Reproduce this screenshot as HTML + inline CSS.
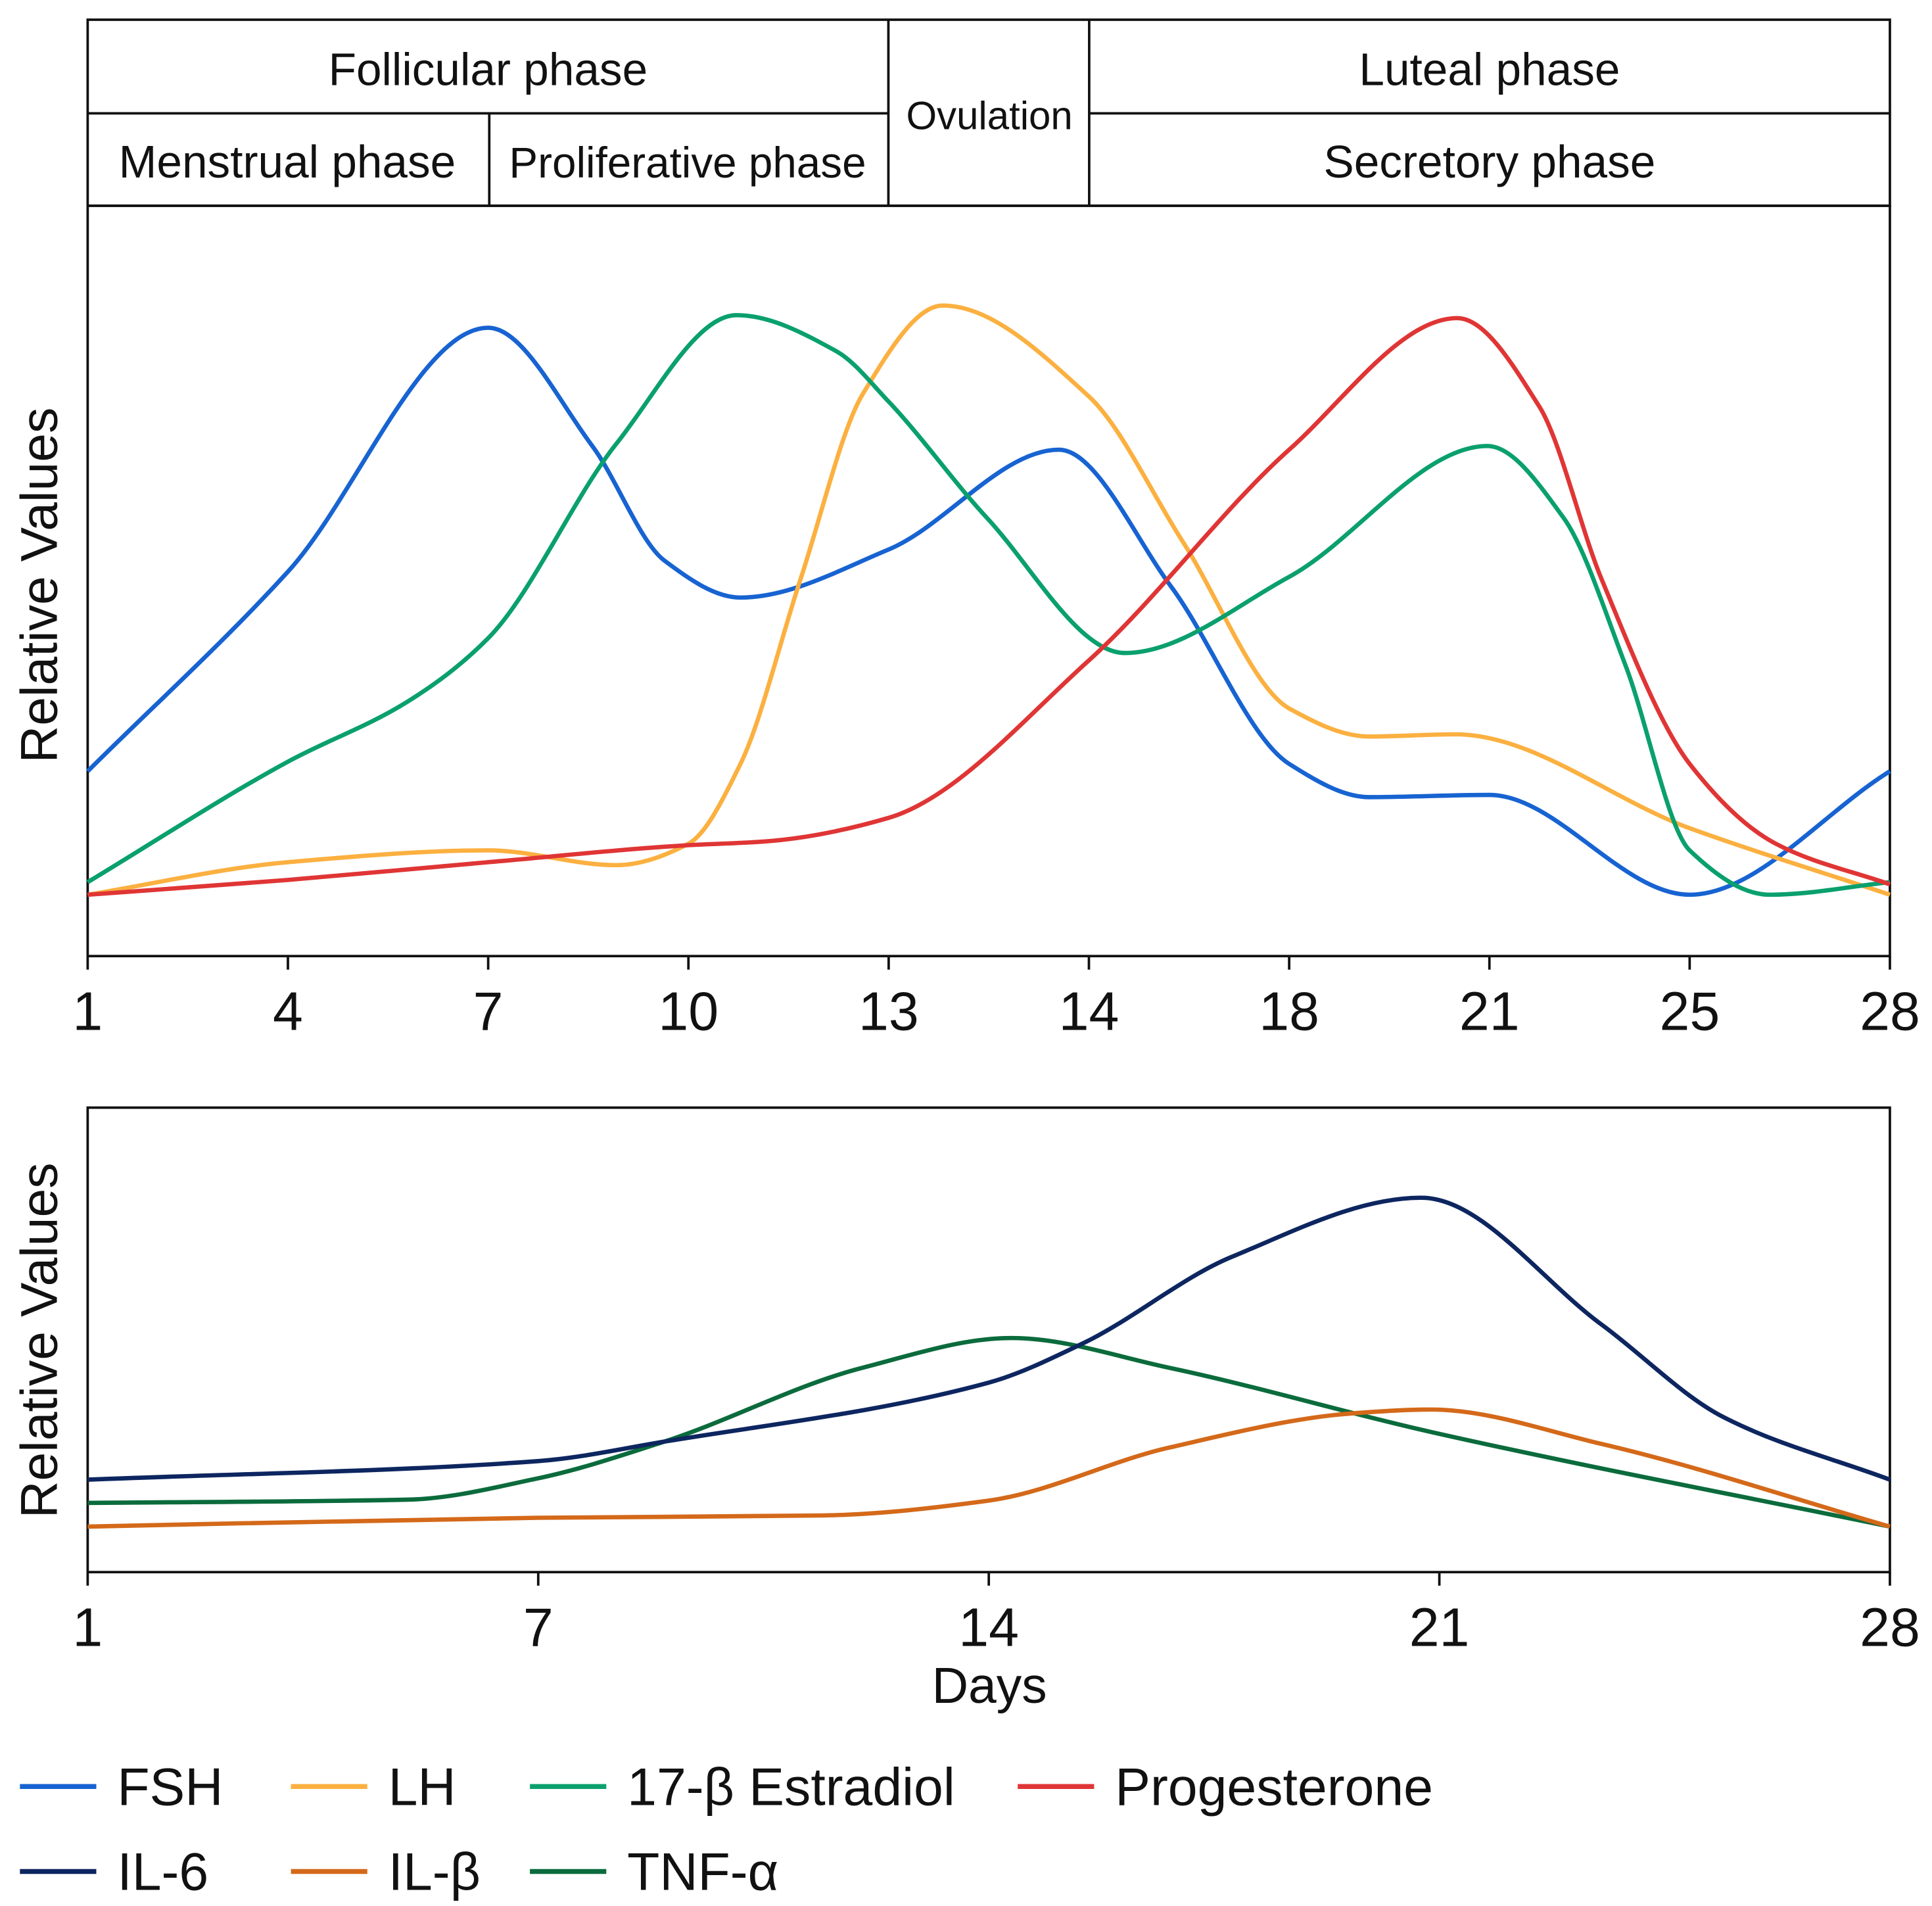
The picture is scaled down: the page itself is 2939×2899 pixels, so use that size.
<!DOCTYPE html>
<html><head><meta charset="utf-8"><style>
html,body{margin:0;padding:0;background:#fff}
svg{display:block}
text{font-family:"Liberation Sans",sans-serif;fill:#111}
</style></head><body>
<svg id="chart" width="2939" height="2899" viewBox="0 0 1568 1547" xmlns="http://www.w3.org/2000/svg">
<g fill="none" stroke="#111" stroke-width="2">
<rect x="71" y="16" width="1463" height="151"/>
<line x1="71" y1="92" x2="721" y2="92"/>
<line x1="884" y1="92" x2="1534" y2="92"/>
<line x1="397" y1="92" x2="397" y2="167"/>
<line x1="721" y1="16" x2="721" y2="167"/>
<line x1="884" y1="16" x2="884" y2="167"/>
</g>
<text x="396" y="69" font-size="37" text-anchor="middle">Follicular phase</text>
<text x="1209" y="69" font-size="37" text-anchor="middle">Luteal phase</text>
<text x="803" y="105" font-size="32" text-anchor="middle">Ovulation</text>
<text x="233" y="144" font-size="37" text-anchor="middle">Menstrual phase</text>
<text x="558" y="144" font-size="35" text-anchor="middle">Proliferative phase</text>
<text x="1209" y="144" font-size="37" text-anchor="middle">Secretory phase</text>
<rect x="71" y="167" width="1463" height="609" fill="none" stroke="#111" stroke-width="2"/>
<rect x="71" y="899" width="1463" height="377" fill="none" stroke="#111" stroke-width="2"/>
<text transform="translate(46,475) rotate(-90)" font-size="42" text-anchor="middle">Relative Values</text>
<text transform="translate(46,1088) rotate(-90)" font-size="42" text-anchor="middle">Relative Values</text>
<text x="803" y="1382" font-size="41" text-anchor="middle">Days</text>
<g id="top-ticks"></g><g id="top-series"></g><g id="bot-ticks"></g><g id="bot-series"></g><g id="legend"></g>
</svg>
<script>
// Top chart data (x = categorical tick index 0..9, y = relative value 0..100)
const topTickLabels = ["1","4","7","10","13","14","18","21","25","28"];
const fshX = [0,1,2,2.52,2.88,3.26,4,4.85,5.41,6,6.4,7,8,9];
const fshY = [25,52,85,69,53.5,48.5,55,68.5,50,26,21.5,21.8,8.3,25];
const lhX = [0,1,2,2.64,3,3.26,3.56,3.87,4.27,5,5.47,6,6.4,6.83,8,9];
const lhY = [8.3,12.7,14.3,12.3,15.2,26,51,76,88,75.7,56,33.5,29.7,30,17.3,8.3];
const e2X = [0,1,1.59,2,2.64,3.24,3.74,4,4.49,5.18,6,6.99,7.37,7.68,8,8.4,9];
const e2Y = [10,26.3,34.3,43,69.3,86.7,81.8,75,59.3,41,51.3,69,59.3,39.3,14.3,8.3,10];
const progX = [0,1,2,3,3.38,4,5,6,6.84,7.25,7.56,8,8.43,9];
const progY = [8.3,10.3,12.7,15,15.5,18.7,40,68.5,86.3,74.3,51,26,15.2,9.7];
// Bottom chart data (x = categorical tick index 0..4 for days 1,7,14,21,28; y = relative value)
const botTickLabels = ["1","7","14","21","28"];
const il6X = [0,1,1.28,2,2.21,2.54,2.96,3.36,3.63,4];
const il6Y = [19.9,23.9,28.1,40.8,49.3,67.9,80.6,53.3,33.4,19.9];
const il1X = [0,1,1.63,2,2.4,2.81,2.98,3.36,4];
const il1Y = [9.8,11.7,12.2,15.4,26.8,34.2,35,27.6,9.8];
const tnfX = [0,0.71,1,1.28,1.72,2.05,2.4,2.98,4];
const tnfY = [14.9,15.6,20.2,28.1,44,50.4,44,30.2,9.8];

const NS="http://www.w3.org/2000/svg";
const topXs = i => 71 + i*(1463/9);
const topYs = v => 776 - v*6;
const botXs = i => 71 + i*(1463/4);
const botYs = v => 1276 - v*3.77;
function el(tag,attrs,parent){const e=document.createElementNS(NS,tag);for(const k in attrs)e.setAttribute(k,attrs[k]);parent.appendChild(e);return e;}
// monotone cubic in x (Fritsch-Carlson)
function smooth(p){
  const n=p.length, d=[], m=[];
  for(let i=0;i<n-1;i++) d.push((p[i+1][1]-p[i][1])/(p[i+1][0]-p[i][0]));
  m[0]=d[0]; m[n-1]=d[n-2];
  for(let i=1;i<n-1;i++){
    if(d[i-1]*d[i]<=0) m[i]=0;
    else{const h0=p[i][0]-p[i-1][0],h1=p[i+1][0]-p[i][0];
      m[i]=3*(h0+h1)/((2*h1+h0)/d[i-1]+(h1+2*h0)/d[i]);}
  }
  let s="M"+p[0][0]+","+p[0][1];
  for(let i=0;i<n-1;i++){
    const h=(p[i+1][0]-p[i][0])/3;
    s+=" C"+(p[i][0]+h)+","+(p[i][1]+m[i]*h)+" "+(p[i+1][0]-h)+","+(p[i+1][1]-m[i+1]*h)+" "+p[i+1][0]+","+p[i+1][1];
  }
  return s;
}
const tt=document.getElementById('top-ticks');
topTickLabels.forEach((l,i)=>{
  const ln=el('line',{x1:topXs(i),x2:topXs(i),y1:776,y2:787,stroke:'#111','stroke-width':2},tt);
  
  
  const t=el('text',{x:topXs(i),y:836,'font-size':44,'text-anchor':'middle'},tt);
  t.textContent=l;
  
  
});
const bt=document.getElementById('bot-ticks');
botTickLabels.forEach((l,i)=>{
  const ln=el('line',{x1:botXs(i),x2:botXs(i),y1:1276,y2:1287,stroke:'#111','stroke-width':2},bt);
  
  
  const t=el('text',{x:botXs(i),y:1336,'font-size':44,'text-anchor':'middle'},bt);
  t.textContent=l;
  
  
});
const ts=document.getElementById('top-series');
[[fshX,fshY,'#1763d1','fsh-line'],[lhX,lhY,'#fbb040','lh-line'],[e2X,e2Y,'#0aa06e','estradiol-line'],[progX,progY,'#e03535','progesterone-line']].forEach(s=>{
  const pts=s[0].map((x,i)=>[topXs(x),topYs(s[1][i])]);
  const p=el('path',{d:smooth(pts),fill:'none',stroke:s[2],'stroke-width':3.5},ts);
  
  
});
const bs=document.getElementById('bot-series');
[[tnfX,tnfY,'#0b6b3c','tnf-alpha-line'],[il1X,il1Y,'#d4691a','il-beta-line'],[il6X,il6Y,'#0d2660','il-6-line']].forEach(s=>{
  const pts=s[0].map((x,i)=>[botXs(x),botYs(s[1][i])]);
  const p=el('path',{d:smooth(pts),fill:'none',stroke:s[2],'stroke-width':3.5},bs);
  
  
});
const lg=document.getElementById('legend');
[[16,1450,'#1763d1','FSH'],[236,1450,'#fbb040','LH'],[430,1450,'#0aa06e','17-β Estradiol'],[826,1450,'#e03535','Progesterone'],
 [16,1519,'#0d2660','IL-6'],[236,1519,'#d4691a','IL-β'],[430,1519,'#0b6b3c','TNF-α']].forEach(e=>{
  const g=el('g',{},lg);
  
  
  el('line',{x1:e[0],x2:e[0]+62,y1:e[1],y2:e[1],stroke:e[2],'stroke-width':4},g);
  const t=el('text',{x:e[0]+79,y:e[1]+15,'font-size':43},g);
  t.textContent=e[3];
});
</script>
</body></html>
